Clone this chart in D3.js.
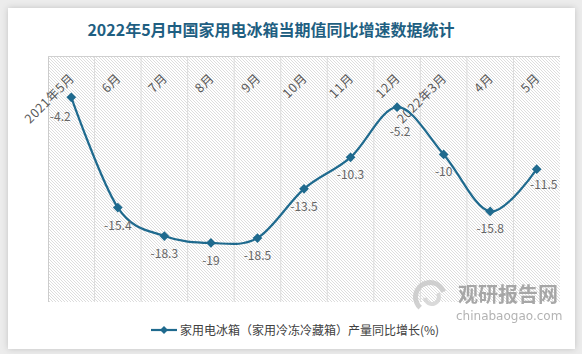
<!DOCTYPE html>
<html>
<head>
<meta charset="utf-8">
<script src="https://cdn.jsdelivr.net/npm/d3@7"></script>
<style>
  html, body { margin: 0; padding: 0; background: #ececec; }
  svg { display: block; }
</style>
</head>
<body>
<svg id="chart" width="582" height="354"></svg>
<script>
// Chart data
const months = ['2021年5月', '6月', '7月', '8月', '9月', '10月', '11月', '12月', '2022年3月', '4月', '5月'];
const growth = [-4.2, -15.4, -18.3, -19, -18.5, -13.5, -10.3, -5.2, -10, -15.8, -11.5];
const yDomain = [-25, 0];

const title = '2022年5月中国家用电冰箱当期值同比增速数据统计';
const legendLabel = '家用电冰箱（家用冷冻冷藏箱）产量同比增长(%)';

const lineColor = '#1f6a8e';
const font = '"Noto Sans CJK SC", "Noto Sans", sans-serif';

const svg = d3.select('#chart');
const defs = svg.append('defs');

// card shadow
const shadow = defs.append('filter').attr('id', 'shadow')
    .attr('x', -0.05).attr('y', -0.05).attr('width', 1.1).attr('height', 1.1);
shadow.append('feDropShadow')
    .attr('dx', 0).attr('dy', 0).attr('stdDeviation', 3)
    .attr('flood-color', '#000').attr('flood-opacity', 0.18);

// diagonal hatch for plot background
const hatch = defs.append('pattern').attr('id', 'hatch')
    .attr('patternUnits', 'userSpaceOnUse')
    .attr('width', 3).attr('height', 3);
hatch.append('path')
    .attr('d', 'M-1,-1 L4,4 M-1,2 L1,4 M2,-1 L4,1')
    .attr('stroke', '#d4d4d4').attr('stroke-width', 0.8);

svg.append('rect')
    .attr('x', 8).attr('y', 8).attr('width', 567).attr('height', 341)
    .attr('fill', '#fff').attr('filter', 'url(#shadow)');

// Title
svg.append('text')
    .attr('x', 271).attr('y', 36)
    .attr('text-anchor', 'middle')
    .attr('font-family', font)
    .attr('font-weight', 'bold')
    .attr('font-size', '16px')
    .attr('fill', '#1f5f82')
    .text(title);

const plot = { left: 48, right: 560, top: 56, bottom: 302 };

const x = d3.scaleBand().domain(months).range([plot.left, plot.right]);
const y = d3.scaleLinear().domain(yDomain).range([plot.bottom, plot.top]);

svg.append('rect')
    .attr('x', plot.left).attr('y', plot.top)
    .attr('width', plot.right - plot.left).attr('height', plot.bottom - plot.top)
    .attr('fill', 'url(#hatch)');

// vertical grid at category boundaries
const bounds = months.map(m => x(m)).concat([plot.right]);
svg.append('g').selectAll('line')
    .data(bounds.slice(1, -1))
    .join('line')
    .attr('x1', d => d).attr('x2', d => d)
    .attr('y1', plot.top).attr('y2', plot.bottom)
    .attr('stroke', '#dcdcdc').attr('stroke-width', 1);

// left edge
svg.append('line')
    .attr('x1', plot.left + 0.5).attr('x2', plot.left + 0.5)
    .attr('y1', plot.top).attr('y2', plot.bottom)
    .attr('stroke', '#cccccc');

// x axis along zero line (top)
const xAxis = svg.append('g')
    .attr('transform', `translate(0,${y(0)})`)
    .call(d3.axisBottom(x).tickSize(0).tickPadding(0));
xAxis.select('.domain').attr('stroke', '#d0d0d0').attr('d', `M${plot.left},0.5H${plot.right}`);
xAxis.selectAll('text')
    .attr('font-family', font)
    .attr('font-size', '12.5px')
    .attr('letter-spacing', '0.6px')
    .attr('fill', '#595959')
    .attr('text-anchor', 'end')
    .attr('dy', 0)
    .attr('y', 0)
    .attr('transform', 'translate(4,23) rotate(-45)');

// Line
const line = d3.line()
    .x((d, i) => x(months[i]) + x.bandwidth() / 2)
    .y(d => y(d))
    .curve(d3.curveCardinal.tension(0));

svg.append('path')
    .datum(growth)
    .attr('fill', 'none')
    .attr('stroke', lineColor)
    .attr('stroke-width', 2.2)
    .attr('d', line);

const diamond = d3.symbol().type(d3.symbolDiamond2).size(60);

svg.append('g').selectAll('path')
    .data(growth)
    .join('path')
    .attr('d', diamond)
    .attr('transform', (d, i) => `translate(${x(months[i]) + x.bandwidth() / 2},${y(d)})`)
    .attr('fill', lineColor);

// data labels, a few nudged like the original
const labelNudge = { 0: [-11, 2], 7: [3, 7], 10: [7, -2] };
svg.append('g').selectAll('text')
    .data(growth)
    .join('text')
    .attr('x', (d, i) => x(months[i]) + x.bandwidth() / 2 + (labelNudge[i] ? labelNudge[i][0] : 0))
    .attr('y', (d, i) => y(d) + 22 + (labelNudge[i] ? labelNudge[i][1] : 0))
    .attr('text-anchor', 'middle')
    .attr('font-family', font)
    .attr('font-size', '12px')
    .attr('fill', '#666666')
    .text(d => d);

// watermark
const wm = svg.append('g').attr('opacity', 0.85);
const arc = d3.arc();
wm.append('path')
    .attr('transform', 'translate(430,297)')
    .attr('d', arc({ innerRadius: 12, outerRadius: 17, startAngle: -2.4, endAngle: 1.2 }))
    .attr('fill', '#c9c9c9');
wm.append('path')
    .attr('transform', 'translate(432,297)')
    .attr('d', arc({ innerRadius: 5, outerRadius: 9, startAngle: 1.0, endAngle: 4.6 }))
    .attr('fill', '#d4d4d4');
wm.append('text')
    .attr('x', 458).attr('y', 302)
    .attr('font-family', font)
    .attr('font-weight', 'bold')
    .attr('font-size', '20px')
    .attr('fill', '#9a9a9a')
    .text('观研报告网');
wm.append('text')
    .attr('x', 456).attr('y', 320)
    .attr('font-family', '"DejaVu Sans", sans-serif')
    .attr('font-size', '12px')
    .attr('fill', '#a6a6a6')
    .text('chinabaogao.com');

// Legend
const legend = svg.append('g').attr('transform', 'translate(151,330)');
legend.append('line')
    .attr('x1', 0).attr('x2', 26).attr('y1', 0).attr('y2', 0)
    .attr('stroke', lineColor).attr('stroke-width', 2.2);
legend.append('path')
    .attr('d', d3.symbol().type(d3.symbolDiamond2).size(40))
    .attr('transform', 'translate(13,0)')
    .attr('fill', lineColor);
legend.append('text')
    .attr('x', 29).attr('y', 4.5)
    .attr('font-family', font)
    .attr('font-size', '12px')
    .attr('fill', '#404040')
    .text(legendLabel);
</script>
</body>
</html>
